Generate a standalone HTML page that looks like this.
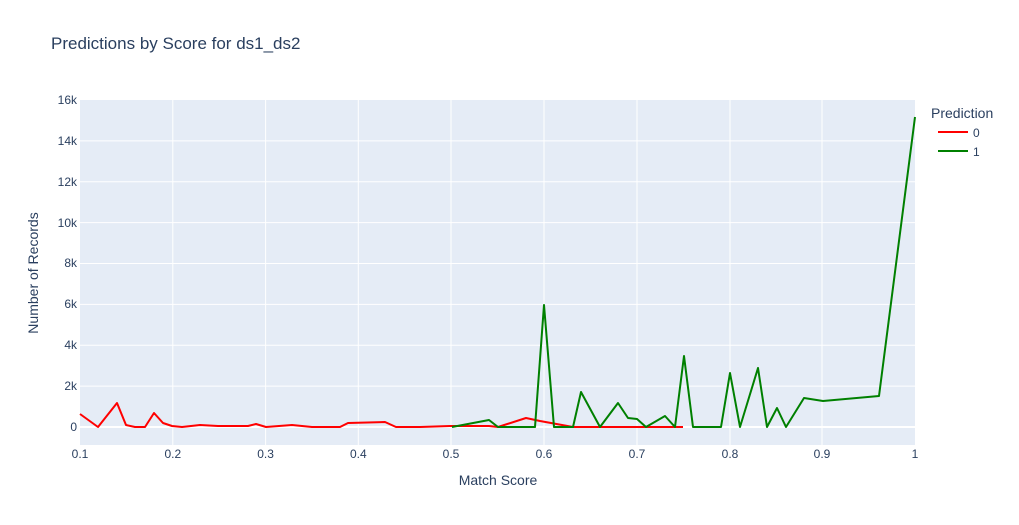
<!DOCTYPE html>
<html><head><meta charset="utf-8"><style>body{margin:0;background:#fff}svg{display:block;font-family:"Liberation Sans",sans-serif}</style></head><body>
<svg width="1019" height="525" xmlns="http://www.w3.org/2000/svg">
<rect x="80" y="100" width="835" height="345" fill="#e5ecf6"/>
<g stroke="#fff" stroke-width="1">
<line x1="172.8" y1="100" x2="172.8" y2="445"/><line x1="265.6" y1="100" x2="265.6" y2="445"/><line x1="358.3" y1="100" x2="358.3" y2="445"/><line x1="451" y1="100" x2="451" y2="445"/><line x1="544" y1="100" x2="544" y2="445"/><line x1="637" y1="100" x2="637" y2="445"/><line x1="730" y1="100" x2="730" y2="445"/><line x1="822" y1="100" x2="822" y2="445"/>
<line x1="80" y1="386.1" x2="915" y2="386.1"/><line x1="80" y1="345.3" x2="915" y2="345.3"/><line x1="80" y1="304.4" x2="915" y2="304.4"/><line x1="80" y1="263.5" x2="915" y2="263.5"/><line x1="80" y1="222.6" x2="915" y2="222.6"/><line x1="80" y1="181.8" x2="915" y2="181.8"/><line x1="80" y1="140.9" x2="915" y2="140.9"/>
</g>
<line x1="80" y1="427" x2="915" y2="427" stroke="#fff" stroke-width="2"/>
<polyline fill="none" stroke="#ff0000" stroke-width="2" stroke-linejoin="round" points="80,414 98,427 117,403 126,425 135,427 145,427 154,413 163,423 172,426 182,427 200,425 218,426 230,426 248,426 256,424 266,427 292,425 312,427 340,427 348,423 385,422 396,427 420,427 450,426 489,426 498,427 526,418 540,421 573,427 683,427"/>
<polyline fill="none" stroke="#008000" stroke-width="2" stroke-linejoin="round" points="452,427 489,420 498,427 535,427 544,305 554,427 573,427 581,392 600,427 618,403 628,418 637,419 646,427 665,416 675,427 684,356 693,427 721,427 730,373 740,427 758,368 767,427 777,408 786,427 804,398 823,401 879,396 915,117"/>
<g fill="#2a3f5f" font-size="12">
<g text-anchor="end"><text x="77" y="431">0</text><text x="77" y="390">2k</text><text x="77" y="349">4k</text><text x="77" y="308">6k</text><text x="77" y="267">8k</text><text x="77" y="227">10k</text><text x="77" y="186">12k</text><text x="77" y="145">14k</text><text x="77" y="104">16k</text></g>
<g text-anchor="middle"><text x="80" y="458">0.1</text><text x="172.8" y="458">0.2</text><text x="265.6" y="458">0.3</text><text x="358.3" y="458">0.4</text><text x="451" y="458">0.5</text><text x="544" y="458">0.6</text><text x="637" y="458">0.7</text><text x="730" y="458">0.8</text><text x="822" y="458">0.9</text><text x="915" y="458">1</text></g>
<text x="498" y="485" font-size="14" text-anchor="middle">Match Score</text>
<text transform="translate(38,273) rotate(-90)" font-size="14" text-anchor="middle">Number of Records</text>
<text x="51" y="49" font-size="17">Predictions by Score for ds1_ds2</text>
<text x="931" y="118" font-size="14">Prediction</text>
<text x="973" y="137">0</text><text x="973" y="156">1</text>
</g>
<line x1="938" y1="132" x2="968" y2="132" stroke="#ff0000" stroke-width="2"/>
<line x1="938" y1="151" x2="968" y2="151" stroke="#008000" stroke-width="2"/>
</svg>
</body></html>
